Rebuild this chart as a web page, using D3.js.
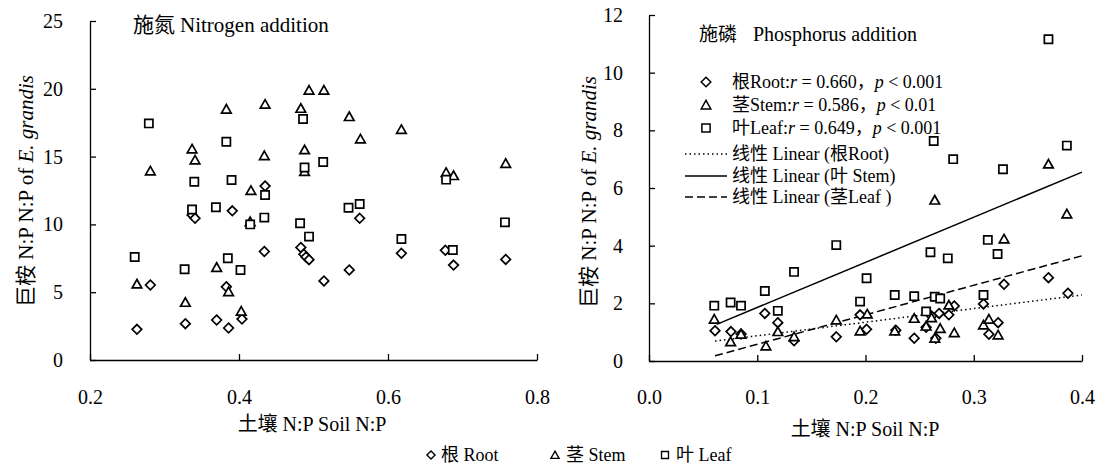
<!DOCTYPE html>
<html><head><meta charset="utf-8">
<script src="https://cdn.jsdelivr.net/npm/d3@7/dist/d3.min.js"></script>
<style>
body{margin:0;background:#fff}
svg{display:block}
text{font-family:"Liberation Serif","Times New Roman","Noto Sans CJK SC",serif;fill:#000}
</style>
</head><body>
<svg id="chart" width="1099" height="466"></svg>
<script>
// ---------- Data: Nitrogen addition (soil N:P, plant N:P) ----------
const nitrogenRoot = [[0.263,2.26],[0.281,5.53],[0.328,2.68],[0.337,10.7],[0.341,10.45],[0.391,11.0],[0.370,2.95],[0.386,2.36],[0.383,5.4],[0.404,3.02],[0.434,8.0],[0.435,12.83],[0.483,8.3],[0.487,7.8],[0.490,7.6],[0.494,7.4],[0.514,5.83],[0.548,6.64],[0.562,10.45],[0.618,7.87],[0.677,8.09],[0.688,7.0],[0.758,7.42]];
const nitrogenStem = [[0.263,5.6],[0.281,13.94],[0.328,4.25],[0.337,15.56],[0.341,14.75],[0.383,18.5],[0.370,6.83],[0.386,5.04],[0.403,3.6],[0.416,12.5],[0.435,18.86],[0.434,15.07],[0.494,19.9],[0.514,19.9],[0.483,18.56],[0.488,15.5],[0.548,17.95],[0.563,16.3],[0.618,17.0],[0.678,13.83],[0.688,13.6],[0.758,14.5],[0.488,13.9],[0.415,10.2]];
const nitrogenLeaf = [[0.260,7.6],[0.279,17.45],[0.327,6.69],[0.340,13.15],[0.337,11.1],[0.369,11.26],[0.383,16.1],[0.390,13.27],[0.385,7.5],[0.402,6.64],[0.415,10.0],[0.434,10.5],[0.435,12.17],[0.486,17.77],[0.488,14.2],[0.513,14.6],[0.547,11.23],[0.562,11.5],[0.482,10.08],[0.494,9.1],[0.618,8.92],[0.687,8.11],[0.678,13.3],[0.757,10.15]];

// ---------- Data: Phosphorus addition ----------
const phosphorusRoot = [[0.061,1.05],[0.0757,1.02],[0.085,0.94],[0.107,1.65],[0.119,1.33],[0.134,0.7],[0.173,0.84],[0.195,1.6],[0.201,1.1],[0.228,1.07],[0.245,0.79],[0.256,1.17],[0.261,1.56],[0.265,0.79],[0.268,1.65],[0.277,1.6],[0.282,1.91],[0.309,1.98],[0.314,0.93],[0.3225,1.33],[0.328,2.66],[0.369,2.89],[0.387,2.35]];
const phosphorusStem = [[0.0603,1.45],[0.0754,0.67],[0.085,0.93],[0.108,0.52],[0.119,1.02],[0.134,0.84],[0.173,1.42],[0.195,1.04],[0.2016,1.63],[0.227,1.04],[0.245,1.48],[0.256,1.21],[0.264,0.79],[0.269,1.13],[0.277,1.94],[0.282,0.98],[0.309,1.25],[0.314,1.45],[0.3225,0.9],[0.328,4.23],[0.264,5.58],[0.369,6.83],[0.386,5.1],[0.261,1.5]];
const phosphorusLeaf = [[0.0603,1.92],[0.0754,2.03],[0.085,1.92],[0.107,2.43],[0.119,1.74],[0.134,3.09],[0.173,4.02],[0.201,2.87],[0.195,2.06],[0.227,2.29],[0.245,2.25],[0.256,1.72],[0.264,2.23],[0.269,2.17],[0.260,3.77],[0.276,3.56],[0.309,2.29],[0.313,4.2],[0.322,3.71],[0.263,7.63],[0.281,7.0],[0.327,6.65],[0.386,7.47],[0.369,11.16]];

// Linear fits (end points)
const linearRoot = [[0.061,0.69],[0.40,2.29]];
const linearLeafSolid = [[0.0625,1.27],[0.40,6.55]];
const linearStemDashed = [[0.061,0.18],[0.40,3.65]];

// Ticks
const nXTicks = [0.2,0.4,0.6,0.8];
const nYTicks = [0,5,10,15,20,25];
const pXTicks = [0.0,0.1,0.2,0.3,0.4];
const pYTicks = [0,2,4,6,8,10,12];

const FONT = '"Liberation Serif","Times New Roman","Noto Sans CJK SC",serif';
const svg = d3.select("#chart");

const xL = d3.scaleLinear().domain([0.2,0.8]).range([90,537]);
const yL = d3.scaleLinear().domain([0,25]).range([360,21]);
const xR = d3.scaleLinear().domain([0,0.4]).range([649,1082]);
const yR = d3.scaleLinear().domain([0,12]).range([361,15]);

function axes(x, y, xt, yt, xf, padX, padY){
  const gx = svg.append("g").attr("transform",`translate(0,${y.range()[0]})`)
    .call(d3.axisBottom(x).tickValues(xt).tickFormat(xf).tickSizeInner(-6).tickSizeOuter(0).tickPadding(padX));
  const gy = svg.append("g").attr("transform",`translate(${x.range()[0]},0)`)
    .call(d3.axisLeft(y).tickValues(yt).tickFormat(d3.format("d")).tickSizeInner(-6).tickSizeOuter(0).tickPadding(padY));
  [gx,gy].forEach(g=>{
    g.attr("font-family",FONT).attr("font-size",null);
    g.selectAll("path,line").attr("stroke","#000").attr("stroke-width",1.3);
    g.selectAll("text").style("font-size","20px");
  });
}
axes(xL,yL,nXTicks,nYTicks,d3.format(".1f"),30,27);
axes(xR,yR,pXTicks,pYTicks,d3.format(".1f"),29,26);

const shapes = {
  root: "M0,-4.8L4.8,0L0,4.8L-4.8,0Z",
  stem: "M0,-4.6L4.8,3.9L-4.8,3.9Z",
  leaf: "M-4.1,-4.1H4.1V4.1H-4.1Z"
};
function pts(data, shape, x, y){
  svg.append("g").selectAll("path").data(data).join("path")
    .attr("d",shapes[shape])
    .attr("transform",d=>`translate(${x(d[0])},${y(d[1])})`)
    .attr("fill","#fff").attr("stroke","#000").attr("stroke-width",1.7);
}
pts(nitrogenRoot,"root",xL,yL);
pts(nitrogenStem,"stem",xL,yL);
pts(nitrogenLeaf,"leaf",xL,yL);

// trend lines in P panel
const line = d3.line().x(d=>xR(d[0])).y(d=>yR(d[1]));
svg.append("path").datum(linearRoot).attr("d",line).attr("fill","none").attr("stroke","#000").attr("stroke-width",1.5).attr("stroke-dasharray","1.5,3");
svg.append("path").datum(linearLeafSolid).attr("d",line).attr("fill","none").attr("stroke","#000").attr("stroke-width",1.5);
svg.append("path").datum(linearStemDashed).attr("d",line).attr("fill","none").attr("stroke","#000").attr("stroke-width",1.5).attr("stroke-dasharray","8,4");

pts(phosphorusRoot,"root",xR,yR);
pts(phosphorusStem,"stem",xR,yR);
pts(phosphorusLeaf,"leaf",xR,yR);

// Titles
const t1 = svg.append("text").attr("x",133).attr("y",32).style("font-size","21px");
t1.append("tspan").text("施氮");
t1.append("tspan").attr("x",180).text("Nitrogen addition");
const t2 = svg.append("text").attr("x",699).attr("y",41).style("font-size","19px");
t2.append("tspan").text("施磷");
t2.append("tspan").attr("x",753).style("font-size","20px").text("Phosphorus addition");

// Axis titles
function ytitle(x,y){
  const t = svg.append("text").attr("transform",`translate(${x},${y}) rotate(-90)`).attr("text-anchor","middle").style("font-size","21px");
  t.append("tspan").text("巨桉 N:P N:P of ");
  t.append("tspan").style("font-style","italic").text("E. grandis");
}
ytitle(33,191);
ytitle(596,192);
svg.append("text").attr("x",312).attr("y",431).attr("text-anchor","middle").style("font-size","20px").text("土壤 N:P Soil N:P");
svg.append("text").attr("x",865).attr("y",436).attr("text-anchor","middle").style("font-size","20px").text("土壤 N:P Soil N:P");

// Legend inside P panel
const legRows = [
  {shape:"root", y:82, label:"根Root:", r:"0.660", p:"< 0.001"},
  {shape:"stem", y:105, label:"茎Stem:", r:"0.586", p:"< 0.01"},
  {shape:"leaf", y:128, label:"叶Leaf:", r:"0.649", p:"< 0.001"}
];
legRows.forEach(d=>{
  svg.append("path").attr("d",shapes[d.shape]).attr("transform",`translate(706,${d.y})`)
    .attr("fill","#fff").attr("stroke","#000").attr("stroke-width",1.5);
  const t = svg.append("text").attr("x",732).attr("y",d.y+6).style("font-size","18px");
  t.append("tspan").text(d.label);
  t.append("tspan").style("font-style","italic").text("r");
  t.append("tspan").text(" = "+d.r+"，");
  t.append("tspan").style("font-style","italic").text("p");
  t.append("tspan").text(" "+d.p);
});
const lineLeg = [
  {y:154, dash:"1.5,3", label:"线性 Linear (根Root)"},
  {y:176, dash:null, label:"线性 Linear (叶 Stem)"},
  {y:197, dash:"8,4", label:"线性 Linear (茎Leaf )"}
];
lineLeg.forEach(d=>{
  svg.append("line").attr("x1",685).attr("x2",727).attr("y1",d.y).attr("y2",d.y)
    .attr("stroke","#000").attr("stroke-width",1.3).attr("stroke-dasharray",d.dash);
  svg.append("text").attr("x",732).attr("y",d.y+6).style("font-size","18px").text(d.label);
});

// Bottom legend
const bottom = [
  {shape:"root", x:431, tx:441, label:"根 Root"},
  {shape:"stem", x:555, tx:566, label:"茎 Stem"},
  {shape:"leaf", x:665, tx:676, label:"叶 Leaf"}
];
bottom.forEach(d=>{
  svg.append("path").attr("d",shapes[d.shape]).attr("transform",`translate(${d.x},455) scale(0.85)`)
    .attr("fill","#fff").attr("stroke","#000").attr("stroke-width",1.6);
  svg.append("text").attr("x",d.tx).attr("y",461).style("font-size","18px").text(d.label);
});

svg.selectAll("text").style("font-family",FONT);
</script>
</body></html>
